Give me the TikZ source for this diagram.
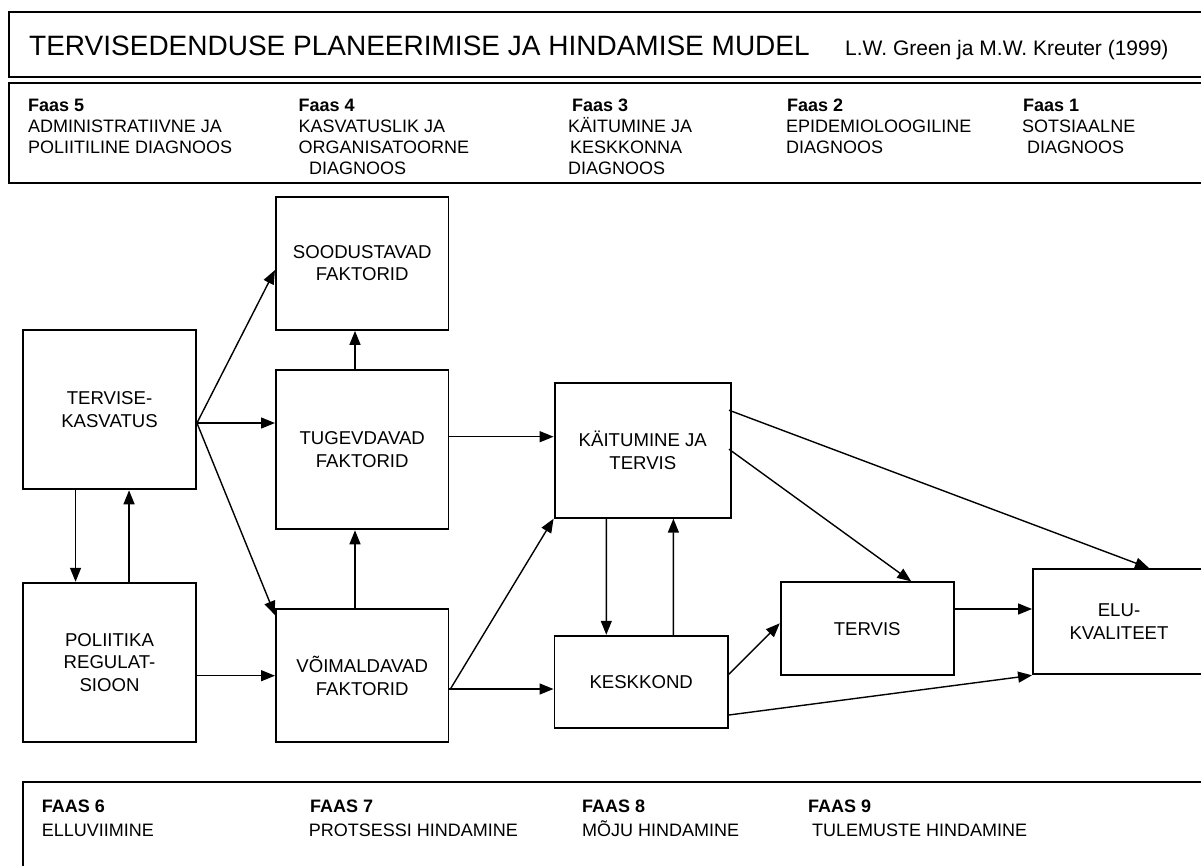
\documentclass[tikz,border=0pt]{standalone}
\usepackage{fontspec}
\setmainfont{Liberation Sans}
\usetikzlibrary{arrows.meta,calc}
\begin{document}
\begin{tikzpicture}[x=1pt,y=-1pt,
  box/.style={draw, line width=1.9pt, inner sep=0pt, align=center,
    font=\fontsize{18.6}{22.5}\selectfont},
  arr/.style={-{Triangle[length=14pt,width=11pt]}, line width=1.4pt},
  frame/.style={line width=2.1pt},
  hd/.style={anchor=base west, inner sep=0pt, font=\fontsize{18}{21}\selectfont},
  hdb/.style={anchor=base west, inner sep=0pt, font=\fontsize{18}{21}\selectfont\bfseries},
]
\useasboundingbox (0,0) rectangle (1201,865);

% frames
\draw[frame] (1215,12) -- (9,12) -- (9,77) -- (1215,77);
\draw[frame] (1215,83) -- (9,83) -- (9,183) -- (1215,183);
\draw[frame] (1215,782) -- (23,782) -- (23,880);

% title
\node[anchor=base west, inner sep=0pt, font=\fontsize{28}{30}\selectfont] (title) at (29,55)
  {TERVISEDENDUSE PLANEERIMISE JA HINDAMISE MUDEL};
\node[anchor=base west, inner sep=0pt, font=\fontsize{21}{24}\selectfont] (author) at (845,55)
  {L.W. Green ja M.W. Kreuter (1999)};

% header phases
\node[hdb] (f5) at (28,111) {Faas 5};
\node[hd] (f5a) at (28,132) {ADMINISTRATIIVNE JA};
\node[hd] (f5b) at (28,153) {POLIITILINE DIAGNOOS};
\node[hdb] (f4) at (298.5,111) {Faas 4};
\node[hd] (f4a) at (298.5,132) {KASVATUSLIK JA};
\node[hd] (f4b) at (298.5,153) {ORGANISATOORNE};
\node[hd] (f4c) at (309,174) {DIAGNOOS};
\node[hdb] (f3) at (572,111) {Faas 3};
\node[hd] (f3a) at (568,132) {KÄITUMINE JA};
\node[hd] (f3b) at (570,153) {KESKKONNA};
\node[hd] (f3c) at (568,174) {DIAGNOOS};
\node[hdb] (f2) at (787,111) {Faas 2};
\node[hd] (f2a) at (786,132) {EPIDEMIOLOOGILINE};
\node[hd] (f2b) at (786,153) {DIAGNOOS};
\node[hdb] (f1) at (1023,111) {Faas 1};
\node[hd] (f1a) at (1022,132) {SOTSIAALNE};
\node[hd] (f1b) at (1027,153) {DIAGNOOS};

% bottom phases
\node[hdb] (f6) at (41.7,812.7) {FAAS 6};
\node[hd] (f6a) at (41.7,836) {ELLUVIIMINE};
\node[hdb] (f7) at (310,812.7) {FAAS 7};
\node[hd] (f7a) at (308.6,836) {PROTSESSI HINDAMINE};
\node[hdb] (f8) at (582,812.7) {FAAS 8};
\node[hd] (f8a) at (582,836) {MÕJU HINDAMINE};
\node[hdb] (f9) at (808,812.7) {FAAS 9};
\node[hd] (f9a) at (812,836) {TULEMUSTE HINDAMINE};

% boxes
\node[box, minimum width=172.5pt, minimum height=133.3pt] (soo) at (362.2,263.3) {SOODUSTAVAD\\FAKTORID};
\node[box, minimum width=172.5pt, minimum height=159.3pt] (tug) at (362.2,449.7) {TUGEVDAVAD\\FAKTORID};
\node[box, minimum width=172.5pt, minimum height=133.3pt] (voi) at (362.2,675.7) {VÕIMALDAVAD\\FAKTORID};
\node[box, minimum width=173pt, minimum height=159.3pt] (ter) at (109.5,409.7) {TERVISE-\\KASVATUS};
\node[box, minimum width=173pt, minimum height=159.6pt] (pol) at (109.5,662.5) {POLIITIKA\\REGULAT-\\SIOON};
\node[box, minimum width=176.5pt, minimum height=135pt] (kai) at (642.8,450.2) {KÄITUMINE JA\\TERVIS};
\node[box, minimum width=173.5pt, minimum height=92.6pt] (kes) at (641.2,682) {KESKKOND};
\node[box, minimum width=173pt, minimum height=92.7pt] (tv) at (867.2,628.7) {TERVIS};
\node[box, minimum width=172pt, minimum height=105.3pt] (elu) at (1119,621.7) {ELU-\\KVALITEET};

% connectors
\draw[arr] ($(ter.east)+(0,13.3)$) -- ($(soo.west)+(0,6.7)$);
\draw[arr] ($(ter.east)+(0,13.3)$) -- ($(tug.west |- ter.east)+(0,13.3)$);
\draw[arr] ($(ter.east)+(0,13.3)$) -- ($(voi.north west)+(0,7)$);
\draw[arr] ($(pol.east)+(0,13.2)$) -- (voi.west);
\draw[arr] ($(ter.south west)+(53.5,0)$) -- ($(pol.north west)+(53.5,0)$);
\draw[arr] ($(pol.north west)+(107,0)$) -- ($(ter.south west)+(107,0)$);
\draw[arr] ($(tug.north west)+(80,0)$) -- ($(soo.south west)+(80,0)$);
\draw[arr] ($(voi.north west)+(80,0)$) -- ($(tug.south west)+(80,0)$);
\draw[arr] ($(tug.east)+(0,-13)$) -- ($(kai.west)+(0,-13.5)$);
\draw[arr] ($(voi.east)+(1,13.3)$) -- (kai.south west);
\draw[arr] ($(voi.east)+(0,13.3)$) -- ($(kes.west)+(0,7)$);
\draw[arr] ($(kai.south west)+(52.8,0)$) -- ($(kes.north west)+(52.8,0)$);
\draw[arr] ($(kes.north west)+(119.8,0)$) -- ($(kai.south west)+(119.8,0)$);
\draw[arr] ($(kai.east)+(-3,-1)$) -- ($(tv.north west)+(131.5,0)$);
\draw[arr] ($(kai.east)+(-3,-40)$) -- ($(elu.north west)+(117,0)$);
\draw[arr] ($(kes.east)+(0,-7.7)$) -- ($(tv.west)+(0,-5.4)$);
\draw[arr] ($(kes.east)+(0,33)$) -- (elu.south west);
\draw[arr] ($(tv.east)+(0,-19.7)$) -- ($(elu.west)+(0,-12.7)$);
\end{tikzpicture}
\end{document}
